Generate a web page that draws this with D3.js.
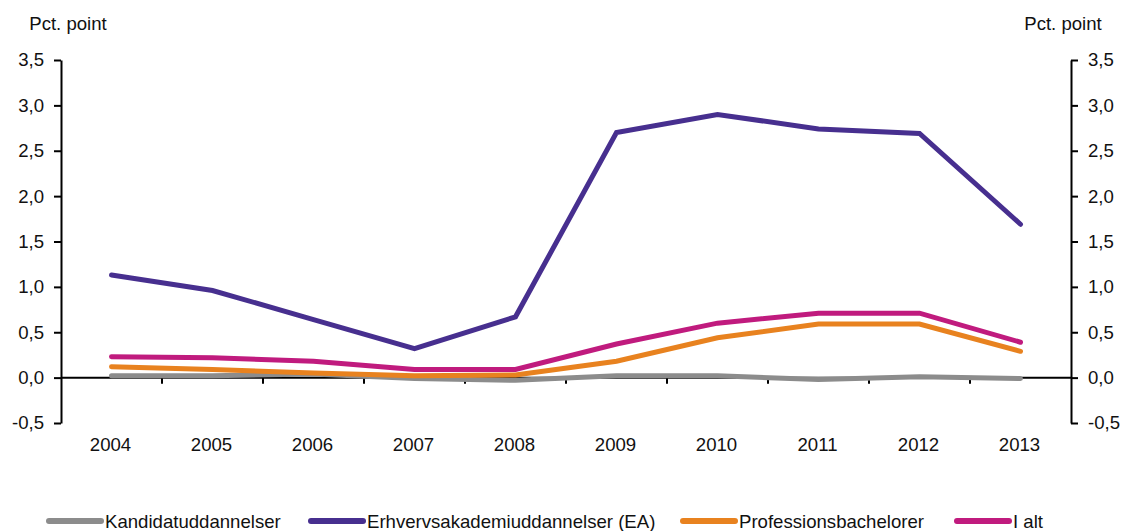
<!DOCTYPE html>
<html>
<head>
<meta charset="utf-8">
<script src="https://cdn.jsdelivr.net/npm/d3@7"></script>
<style>
  body { margin: 0; background: #fff; }
  svg { display: block; font-family: "Liberation Sans", Arial, sans-serif; }
</style>
</head>
<body>
<svg id="chart" width="1121" height="531"></svg>
<script>
// Change in percentage points per year and education type
const years = ["2004","2005","2006","2007","2008","2009","2010","2011","2012","2013"];
const kandidat    = [0.02, 0.02, 0.04, -0.01, -0.03, 0.02, 0.02, -0.02, 0.01, -0.01];
const erhverv     = [1.13, 0.96, 0.64, 0.32, 0.67, 2.70, 2.90, 2.74, 2.69, 1.69];
const professions = [0.12, 0.09, 0.05, 0.02, 0.03, 0.18, 0.44, 0.59, 0.59, 0.29];
const iAlt        = [0.23, 0.22, 0.18, 0.09, 0.09, 0.37, 0.60, 0.71, 0.71, 0.39];
const yTicks = [-0.5, 0, 0.5, 1, 1.5, 2, 2.5, 3, 3.5];
const seriesNames = ["Kandidatuddannelser", "Erhvervsakademiuddannelser (EA)", "Professionsbachelorer", "I alt"];
const seriesColors = ["#8c8c8c", "#472f8f", "#e8821f", "#c01b7e"];
const seriesValues = [kandidat, erhverv, professions, iAlt];

const svg = d3.select("#chart");
const plotLeft = 61, plotRight = 1071, plotTop = 60, plotBottom = 423;
const FS = "18.6px";
// Danish decimal comma, plain hyphen for negatives
const fmt = v => v.toFixed(1).replace(".", ",");

const x = d3.scaleBand().domain(years).range([plotLeft, plotRight]).padding(0);
const y = d3.scaleLinear().domain([-0.5, 3.5]).range([plotBottom, plotTop]);

// Left and right value axes
const yAxisL = d3.axisLeft(y).tickValues(yTicks).tickFormat(fmt).tickSize(7).tickSizeOuter(0).tickPadding(10);
const yAxisR = d3.axisRight(y).tickValues(yTicks).tickFormat(fmt).tickSize(7).tickSizeOuter(0).tickPadding(10);

function styleAxis(g) {
  g.select(".domain").attr("stroke", "#000").attr("stroke-width", 2);
  g.selectAll(".tick line").attr("stroke", "#000").attr("stroke-width", 2);
  g.selectAll(".tick text").attr("fill", "#111").style("font-size", FS)
    .style("font-family", "'Liberation Sans', Arial, sans-serif");
}
svg.append("g").attr("transform", `translate(${plotLeft},0)`).call(yAxisL).call(styleAxis);
svg.append("g").attr("transform", `translate(${plotRight},0)`).call(yAxisR).call(styleAxis);

// Zero line with category separators
const y0 = y(0);
svg.append("line").attr("x1", plotLeft).attr("x2", plotRight).attr("y1", y0).attr("y2", y0)
  .attr("stroke", "#000").attr("stroke-width", 2);
svg.append("g").selectAll("line").data(years.slice(1)).join("line")
  .attr("x1", d => x(d)).attr("x2", d => x(d))
  .attr("y1", y0).attr("y2", y0 + 6)
  .attr("stroke", "#000").attr("stroke-width", 2);

// Year labels
svg.append("g").selectAll("text").data(years).join("text")
  .attr("x", d => x(d) + x.bandwidth() / 2 - 1)
  .attr("y", 451)
  .attr("text-anchor", "middle")
  .attr("fill", "#111")
  .style("font-size", FS)
  .text(d => d);

// Unit titles
svg.append("text").attr("x", 68).attr("y", 30).attr("text-anchor", "middle")
  .style("font-size", FS).attr("fill", "#111").text("Pct. point");
svg.append("text").attr("x", 1063).attr("y", 30).attr("text-anchor", "middle")
  .style("font-size", FS).attr("fill", "#111").text("Pct. point");

// Series lines
const line = d3.line()
  .x((d, i) => x(years[i]) + x.bandwidth() / 2)
  .y(d => y(d));
seriesValues.forEach((vals, k) => {
  svg.append("path").datum(vals)
    .attr("d", line)
    .attr("fill", "none")
    .attr("stroke", seriesColors[k])
    .attr("stroke-width", 5)
    .attr("stroke-linecap", "round")
    .attr("stroke-linejoin", "miter");
});

// Legend
const legendX = [47, 309, 681, 955];
const lg = svg.append("g");
seriesNames.forEach((name, k) => {
  lg.append("line")
    .attr("x1", legendX[k] + 2).attr("x2", legendX[k] + 54)
    .attr("y1", 521).attr("y2", 521)
    .attr("stroke", seriesColors[k]).attr("stroke-width", 6)
    .attr("stroke-linecap", "round");
  lg.append("text")
    .attr("x", legendX[k] + 58).attr("y", 528)
    .attr("fill", "#111")
    .style("font-size", FS)
    .text(name);
});
</script>
</body>
</html>
